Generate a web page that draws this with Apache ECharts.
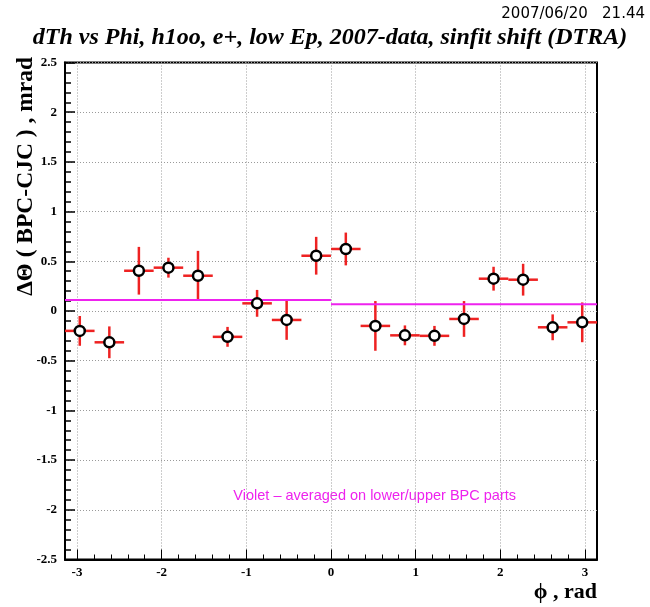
<!DOCTYPE html>
<html>
<head>
<meta charset="utf-8">
<script src="https://cdn.jsdelivr.net/npm/echarts@6/dist/echarts.min.js"></script>
<style>
html,body{margin:0;padding:0;background:#fff;}
#chart{width:650px;height:607px;}
</style>
</head>
<body>
<div id="chart"></div>
<script>
// ---- data ----
const phiCenters = [-2.967, -2.618, -2.269, -1.920, -1.571, -1.222, -0.873, -0.524, -0.175,
                     0.175,  0.524,  0.873,  1.222,  1.571,  1.920,  2.269,  2.618,  2.967];
const dTheta = [-0.200, -0.315, 0.405, 0.436, 0.355, -0.260, 0.077, -0.090, 0.556,
                 0.624, -0.150, -0.245, -0.250, -0.080, 0.325, 0.315, -0.164, -0.114];
const dThetaErr = [0.15, 0.16, 0.24, 0.10, 0.25, 0.10, 0.135, 0.20, 0.19,
                   0.165, 0.25, 0.10, 0.10, 0.18, 0.12, 0.16, 0.13, 0.20];
const binHalfWidth = 0.1745;
const avgLowerHalf = 0.11;   // phi in [-pi, 0]
const avgUpperHalf = 0.067;  // phi in [0, pi]
const xTickLabels = [-3, -2, -1, 0, 1, 2, 3];
const xMinorTicks = [];
for (let v = -30; v <= 30; v += 2) xMinorTicks.push(v / 10);

const titleText = 'dTh vs Phi, h1oo, e+, low Ep, 2007-data, sinfit shift (DTRA)';
const dateText = '2007/06/20   21.44';
const yName = 'ΔΘ ( BPC-CJC ) , mrad';
const xName = 'ϕ , rad';
const noteText = 'Violet – averaged on lower/upper BPC parts';

const PI = Math.PI;
const points = phiCenters.map((x, i) => [x, dTheta[i], dThetaErr[i]]);

const chart = echarts.init(document.getElementById('chart'), null, {renderer: 'canvas'});
const serif = '"Liberation Serif", "DejaVu Serif", serif';
const sans = '"Liberation Sans", Arial, sans-serif';
const gridDot = {color: '#9a9a9a', width: 1, type: [1, 2]};

chart.setOption({
  animation: false,
  backgroundColor: '#fff',
  grid: {left: 65, right: 53, top: 62.5, bottom: 47.5, show: true,
         borderColor: '#000', borderWidth: 2, backgroundColor: 'transparent'},
  xAxis: [
    {type: 'value', min: -PI, max: PI, position: 'bottom',
     axisLine: {show: true, onZero: false, lineStyle: {color: '#000', width: 2}},
     axisTick: {show: true, inside: true, length: 10, customValues: xTickLabels,
                lineStyle: {color: '#000', width: 1}},
     axisLabel: {show: true, customValues: xTickLabels, margin: 7,
                 fontFamily: serif, fontWeight: 'bold', fontSize: 13, color: '#000'},
     splitLine: {show: true, lineStyle: gridDot}},
    {type: 'value', min: -PI, max: PI, position: 'bottom',
     axisLine: {show: false, onZero: false},
     axisTick: {show: true, inside: true, length: 5, customValues: xMinorTicks,
                lineStyle: {color: '#000', width: 1}},
     axisLabel: {show: false},
     splitLine: {show: false}}
  ],
  yAxis: {type: 'value', min: -2.5, max: 2.5, interval: 0.5, position: 'left',
          axisLine: {show: true, onZero: false, lineStyle: {color: '#000', width: 2}},
          axisTick: {show: true, inside: true, length: 10, lineStyle: {color: '#000', width: 1.5}},
          minorTick: {show: true, splitNumber: 5, length: 6, lineStyle: {color: '#000', width: 1.5}},
          axisLabel: {margin: 8, fontFamily: serif, fontWeight: 'bold', fontSize: 13, color: '#000'},
          splitLine: {show: true, lineStyle: gridDot}},
  series: [
    {type: 'custom', xAxisIndex: 0, data: points, z: 2,
     renderItem: function (params, api) {
       const x = api.value(0), y = api.value(1), e = api.value(2);
       const top = api.coord([x, y + e]);
       const bot = api.coord([x, y - e]);
       const l = api.coord([x - binHalfWidth, y]);
       const r = api.coord([x + binHalfWidth, y]);
       const st = {stroke: '#ee2222', lineWidth: 2.5};
       return {type: 'group', children: [
         {type: 'line', shape: {x1: top[0], y1: top[1], x2: bot[0], y2: bot[1]}, style: st},
         {type: 'line', shape: {x1: l[0], y1: l[1], x2: r[0], y2: r[1]}, style: st}
       ]};
     }},
    {type: 'line', xAxisIndex: 0, data: [[-PI, avgLowerHalf], [0, avgLowerHalf]],
     symbol: 'none', lineStyle: {color: '#ee22ee', width: 2}, z: 3},
    {type: 'line', xAxisIndex: 0, data: [[0, avgUpperHalf], [PI, avgUpperHalf]],
     symbol: 'none', lineStyle: {color: '#ee22ee', width: 2}, z: 3},
    {type: 'scatter', xAxisIndex: 0, data: points.map(p => [p[0], p[1]]),
     symbol: 'circle', symbolSize: 10, z: 4,
     itemStyle: {color: '#fff', borderColor: '#000', borderWidth: 2.5, opacity: 1}}
  ],
  graphic: [
    {type: 'text', x: 645, y: 14,
     style: {text: dateText, font: '15px "DejaVu Sans", sans-serif', fill: '#000', align: 'right', verticalAlign: 'middle'}},
    {type: 'text', x: 330, y: 38,
     style: {text: titleText, font: 'italic bold 24px ' + serif, fill: '#000', align: 'center', verticalAlign: 'middle'}},
    {type: 'text', x: 26, y: 57, rotation: PI / 2,
     style: {text: yName, font: 'bold 23.5px ' + serif, fill: '#000', align: 'right', verticalAlign: 'middle'}},
    {type: 'text', x: 597, y: 592,
     style: {text: xName, font: 'bold 22px ' + serif, fill: '#000', align: 'right', verticalAlign: 'middle'}},
    {type: 'text', x: 516, y: 496,
     style: {text: noteText, font: '14.5px ' + sans, fill: '#ee22ee', align: 'right', verticalAlign: 'middle'}}
  ]
});
</script>
</body>
</html>
